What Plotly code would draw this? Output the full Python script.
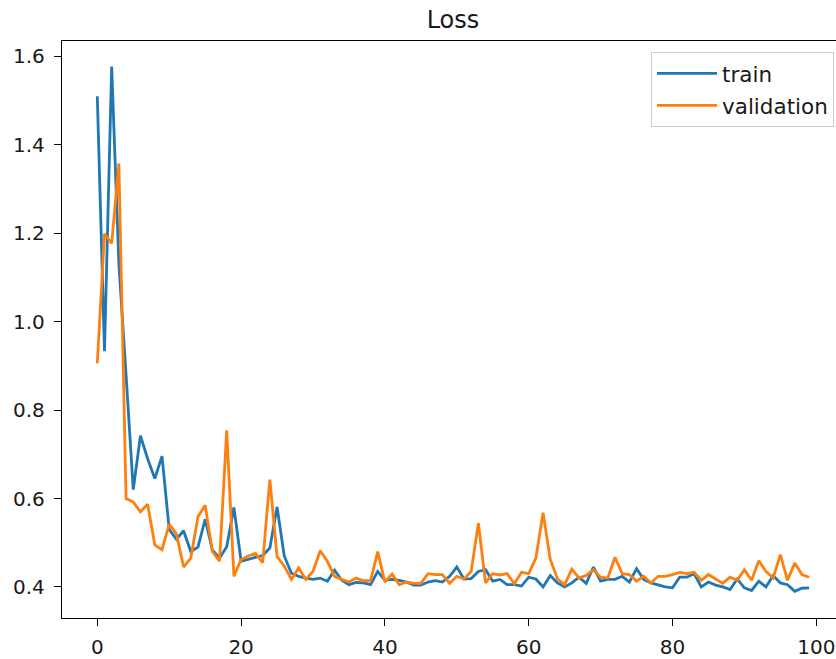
import plotly.graph_objects as go

epochs = list(range(100))

train_loss = [
    1.510, 0.933, 1.577, 1.130, 0.880, 0.620, 0.742, 0.690, 0.645, 0.696,
    0.530, 0.508, 0.527, 0.480, 0.490, 0.553, 0.484, 0.465, 0.491, 0.580,
    0.458, 0.463, 0.467, 0.471, 0.488, 0.581, 0.470, 0.431, 0.424, 0.420,
    0.417, 0.420, 0.413, 0.438, 0.415, 0.405, 0.410, 0.409, 0.405, 0.435,
    0.415, 0.417, 0.415, 0.411, 0.404, 0.404, 0.411, 0.414, 0.411, 0.424,
    0.445, 0.418, 0.419, 0.435, 0.439, 0.413, 0.417, 0.405, 0.405, 0.402,
    0.422, 0.418, 0.400, 0.426, 0.409, 0.400, 0.409, 0.422, 0.408, 0.445,
    0.413, 0.417, 0.417, 0.424, 0.411, 0.441, 0.417, 0.409, 0.405, 0.400,
    0.398, 0.422, 0.422, 0.430, 0.400, 0.411, 0.404, 0.400, 0.394, 0.418,
    0.398, 0.392, 0.413, 0.400, 0.426, 0.409, 0.405, 0.390, 0.397, 0.398,
]

val_loss = [
    0.906, 1.199, 1.177, 1.358, 0.600, 0.592, 0.570, 0.587, 0.495, 0.484,
    0.542, 0.520, 0.445, 0.465, 0.559, 0.585, 0.480, 0.458, 0.754, 0.424,
    0.462, 0.470, 0.476, 0.455, 0.643, 0.469, 0.447, 0.417, 0.443, 0.417,
    0.435, 0.482, 0.458, 0.424, 0.417, 0.411, 0.420, 0.414, 0.414, 0.480,
    0.411, 0.429, 0.405, 0.411, 0.408, 0.408, 0.430, 0.428, 0.428, 0.408,
    0.424, 0.418, 0.435, 0.544, 0.409, 0.430, 0.427, 0.430, 0.407, 0.433,
    0.430, 0.465, 0.568, 0.462, 0.418, 0.405, 0.440, 0.420, 0.426, 0.439,
    0.422, 0.420, 0.467, 0.430, 0.428, 0.413, 0.424, 0.409, 0.424, 0.424,
    0.428, 0.433, 0.430, 0.433, 0.415, 0.428, 0.418, 0.408, 0.422, 0.415,
    0.439, 0.415, 0.459, 0.435, 0.420, 0.473, 0.415, 0.454, 0.428, 0.422,
]

x_ticks = [0, 20, 40, 60, 80, 100]
y_ticks = [0.4, 0.6, 0.8, 1.0, 1.2, 1.4, 1.6]

font_family = "DejaVu Sans"
text_color = "#1a1a1a"

fig = go.Figure()
fig.add_trace(go.Scatter(x=epochs, y=train_loss, mode="lines", name="train",
                         legendgroup="a",
                         line=dict(color="#1f77b4", width=2.8)))
fig.add_trace(go.Scatter(x=epochs, y=val_loss, mode="lines", name="validation",
                         legendgroup="b",
                         line=dict(color="#ff7f0e", width=2.8)))

fig.update_layout(
    width=836, height=659, autosize=False,
    margin=dict(l=62, r=0, t=41, b=37, pad=0),
    paper_bgcolor="white", plot_bgcolor="white",
    font=dict(family=font_family, size=20, color=text_color),
    title=dict(text="Loss", x=453 / 836, xref="container", xanchor="center",
               y=1 - 20 / 659, yref="container", yanchor="middle",
               font=dict(family=font_family, size=24, color=text_color)),
    showlegend=True,
    legend=dict(x=(834 - 62) / 774, xanchor="right", y=(622 - 52) / 581, yanchor="top",
                bgcolor="rgba(255,255,255,0.8)", bordercolor="#cccccc", borderwidth=1,
                itemwidth=60, tracegroupgap=1, traceorder="grouped",
                font=dict(family=font_family, size=21.5, color=text_color)),
    xaxis=dict(range=[-4.91, 102.74], tickvals=x_ticks, ticks="outside", ticklen=7,
               tickwidth=1.3, tickcolor="black", showline=True, linecolor="black",
               linewidth=1.3, mirror=True, showgrid=False, zeroline=False,
               ticklabelstandoff=4),
    yaxis=dict(range=[0.3297, 1.635], tickvals=y_ticks, tickformat=".1f", ticks="outside",
               ticklen=7, tickwidth=1.3, tickcolor="black", showline=True,
               linecolor="black", linewidth=1.3, mirror=False, showgrid=False,
               zeroline=False, ticklabelstandoff=5),
)

fig.write_html(
    "out.html",
    config={"displayModeBar": False},
    post_script="document.body.style.margin='0px';document.body.style.overflow='hidden';",
)
